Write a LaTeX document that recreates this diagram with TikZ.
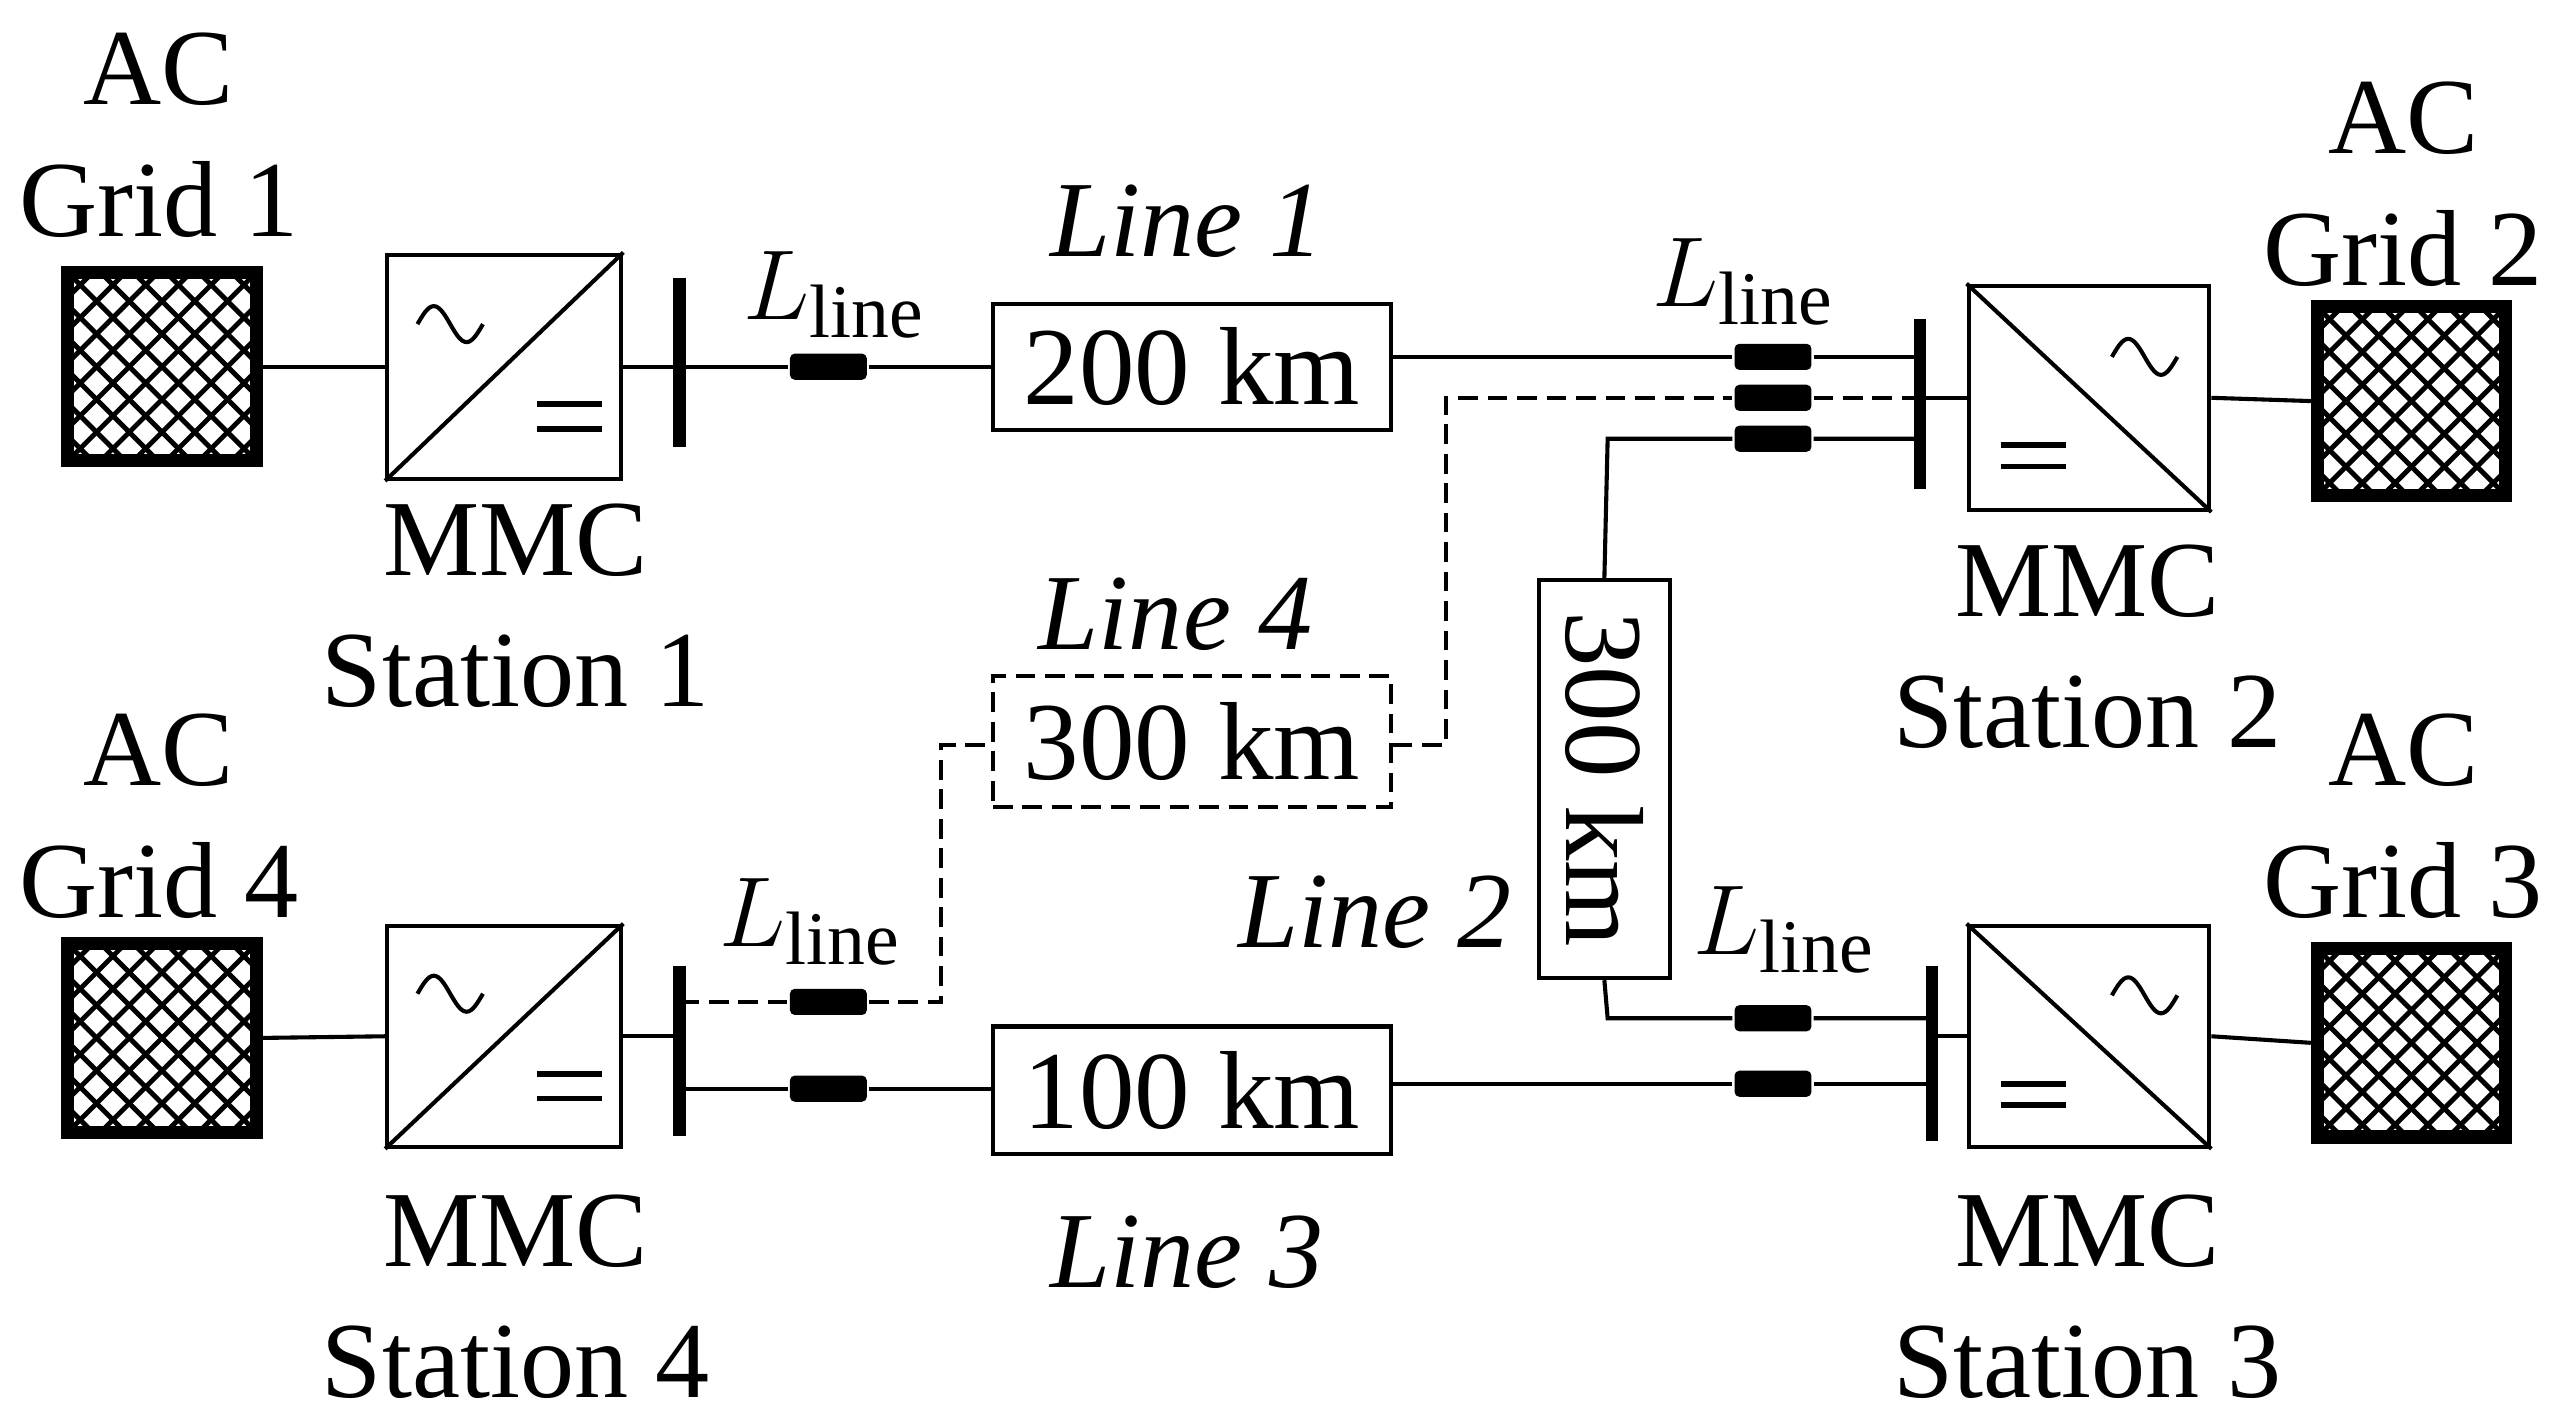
\documentclass[tikz,border=0pt]{standalone}
\usepackage{fontspec}
\setmainfont{Liberation Serif}
\begin{document}
\begin{tikzpicture}[x=0.1mm,y=-0.1mm,line width=0.25mm,
  lbl/.style={font=\fontsize{18.8}{20}\selectfont,inner sep=0},
  ind/.style={fill=black,rounded corners=0.3mm,minimum width=4.7mm,minimum height=1.6mm,inner sep=0},
  bus/.style={line width=0.75mm},
  box/.style={draw,font=\fontsize{19.3}{20}\selectfont,inner sep=0},
  dsh/.style={dash pattern=on 1.2mm off 0.6mm}]
\useasboundingbox (0,0) rectangle (1568,872);
% grids
\newcommand{\gridbox}[3]{%
  \begin{scope}\clip (#1,#2) rectangle ++(120,-120);
  \foreach \k in {-120,-100,...,260}{\draw[line width=0.3mm] (#1+\k,#2) -- ++(120,-120); \draw[line width=0.3mm] (#1+\k,#2-120) -- ++(120,120);}
  \end{scope}
  \node[draw,line width=0.8mm,minimum width=11.5mm,minimum height=11.5mm,inner sep=0] (#3) at (#1+60,#2-60) {};}
\gridbox{39}{284}{g1}
\gridbox{39}{694}{g4}
\gridbox{1413}{305}{g2}
\gridbox{1413}{697}{g3}
\node[lbl] at (97,42) {AC}; \node[lbl] at (97,122) {Grid 1};
\node[lbl] at (97,458) {AC}; \node[lbl] at (97,538) {Grid 4};
\node[lbl] at (1468,72) {AC}; \node[lbl] at (1468,152) {Grid 2};
\node[lbl] at (1468,458) {AC}; \node[lbl] at (1468,538) {Grid 3};
% MMCs
\node[draw,minimum width=14.3mm,minimum height=13.7mm,inner sep=0] (m1) at (308,224) {};
\node[draw,minimum width=14.3mm,minimum height=13.5mm,inner sep=0] (m4) at (308,633) {};
\node[draw,minimum width=14.7mm,minimum height=13.7mm,inner sep=0] (m2) at (1276,243) {};
\node[draw,minimum width=14.7mm,minimum height=13.5mm,inner sep=0] (m3) at (1276,633) {};
\foreach \m in {m1,m4}{
  \draw (\m.south west) -- (\m.north east);
  \draw ([shift={(-53,-26)}]\m.center) sin ++(10,-11) cos ++(10,11) sin ++(10,11) cos ++(10,-11);
  \draw[line width=0.35mm] ([shift={(20,23)}]\m.center) -- ++(40,0) ([shift={(20,38)}]\m.center) -- ++(40,0);}
\foreach \m in {m2,m3}{
  \draw (\m.north west) -- (\m.south east);
  \draw ([shift={(14,-25)}]\m.center) sin ++(10,-11) cos ++(10,11) sin ++(10,11) cos ++(10,-11);
  \draw[line width=0.35mm] ([shift={(-54,29)}]\m.center) -- ++(40,0) ([shift={(-54,42)}]\m.center) -- ++(40,0);}
\node[lbl] at (315,330) {MMC}; \node[lbl] at (315,410) {Station 1};
\node[lbl] at (315,752) {MMC}; \node[lbl] at (315,832) {Station 4};
\node[lbl] at (1275,355) {MMC}; \node[lbl] at (1275,435) {Station 2};
\node[lbl] at (1275,752) {MMC}; \node[lbl] at (1275,832) {Station 3};
% buses
\coordinate (b1t) at (415,170); \coordinate (b1b) at (415,273);
\draw[bus] (b1t) -- (b1b);
\coordinate (b4t) at (415,590); \coordinate (b4b) at (415,694);
\draw[bus] (b4t) -- (b4b);
\coordinate (b2t) at (1173,195); \coordinate (b2b) at (1173,299);
\draw[bus] (b2t) -- (b2b);
\coordinate (b3t) at (1180,590); \coordinate (b3b) at (1180,697);
\draw[bus] (b3t) -- (b3b);
% grid-mmc-bus links
\draw (g1.east) -- (m1.west); \draw (m1.east) -- (415,224);
\draw (g4.east) -- (m4.west); \draw (m4.east) -- (415,633);
\draw (m2.east) -- (g2.west); \draw (1173,243) -- (m2.west);
\draw (m3.east) -- (g3.west); \draw (1180,633) -- (m3.west);
% line boxes
\node[box,minimum width=24.3mm,minimum height=7.7mm] (L1) at (728,224) {200 km};
\node[box,dsh,minimum width=24.3mm,minimum height=8mm] (L4) at (728,453) {300 km};
\node[box,minimum width=24.3mm,minimum height=7.8mm] (L3) at (728,666) {100 km};
\node[box,minimum width=8mm,minimum height=24.3mm] (L2) at (980,476) {};
\node[font=\fontsize{19.3}{20}\selectfont,rotate=-90] at (980,476) {300 km};
\node[lbl,font=\fontsize{18.8}{20}\selectfont\itshape] at (725,135) {Line 1};
\node[lbl,font=\fontsize{18.8}{20}\selectfont\itshape] at (718,375) {Line 4};
\node[lbl,font=\fontsize{18.8}{20}\selectfont\itshape] at (840,557) {Line 2};
\node[lbl,font=\fontsize{18.8}{20}\selectfont\itshape] at (725,765) {Line 3};
% inductors
\node[ind] (i1) at (506,224) {};
\node[ind] (i4a) at (506,612) {};
\node[ind] (i4b) at (506,665) {};
\node[ind] (i2a) at (1083,218) {};
\node[ind] (i2b) at (1083,243) {};
\node[ind] (i2c) at (1083,268) {};
\node[ind] (i3a) at (1083,622) {};
\node[ind] (i3b) at (1083,662) {};
\node[lbl] at (510,180) {$L_{\mathrm{line}}$};
\node[lbl] at (1065,172) {$L_{\mathrm{line}}$};
\node[lbl] at (495,563) {$L_{\mathrm{line}}$};
\node[lbl] at (1090,568) {$L_{\mathrm{line}}$};
% line 1
\draw (415,224) -- (i1) -- (L1.west);
\draw (L1.east |- 0,218) -- (i2a) -- (1173,218);
% line 4
\draw[dsh] (415,612) -- (i4a) -- (575,612) -- (575,455) -- (L4.west |- 0,455);
\draw[dsh] (L4.east |- 0,455) -- (883,455) -- (883,243) -- (i2b) -- (1173,243);
% line 2
\draw (L2.north) -- (982,268) -- (i2c) -- (1173,268);
\draw (L2.south) -- (982,622) -- (i3a) -- (1180,622);
% line 3
\draw (415,665) -- (i4b) -- (L3.west |- 0,665);
\draw (L3.east |- 0,662) -- (i3b) -- (1180,662);
\end{tikzpicture}
\end{document}
